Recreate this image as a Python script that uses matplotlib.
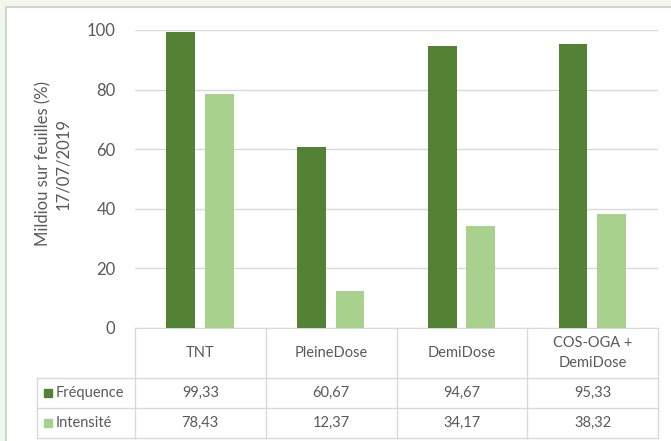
import numpy as np
import matplotlib
matplotlib.use('Agg')
import matplotlib.pyplot as plt
from matplotlib.patches import Rectangle

categories = ['TNT', 'PleineDose', 'DemiDose', 'COS-OGA +\nDemiDose']
series = ['Fréquence', 'Intensité']
frequence = [99.33, 60.67, 94.67, 95.33]
intensite = [78.43, 12.37, 34.17, 38.32]
colors = ['#548235', '#A9D18E']
txt = '#595959'
grid = '#d9d9d9'

plt.rcParams['font.family'] = ['Lato', 'DejaVu Sans']

W, H = 671, 441
fig = plt.figure(figsize=(W / 100, H / 100), dpi=100)
fig.patch.set_facecolor('#f2f7ec')

def fx(px):
    return px / W

def fy(py):
    return 1 - py / H

# white chart area with grey border
fig.patches.append(Rectangle((fx(6), fy(470)), fx(700), (470 - 7) / H,
                             transform=fig.transFigure, facecolor='white',
                             edgecolor='#d4d4d4', linewidth=1.5, zorder=-5))

left, right, top, bottom = 135, 658, 30, 328
ax = fig.add_axes([fx(left), fy(bottom), fx(right - left), (bottom - top) / H])
ax.set_facecolor('none')
ax.set_zorder(2)

x = np.arange(len(categories))
w = 0.22
ax.bar(x - 0.15, frequence, w, color=colors[0], zorder=3)
ax.bar(x + 0.145, intensite, w, color=colors[1], zorder=3)

ax.set_xlim(-0.5, len(categories) - 0.5)
ax.set_ylim(0, 100)
ax.set_yticks(np.arange(0, 101, 20))
ax.tick_params(axis='y', length=0, pad=14, labelsize=12, labelcolor=txt)
ax.tick_params(axis='x', length=0, labelbottom=False)
ax.yaxis.grid(True, color=grid, linewidth=1)
for s in ['top', 'right', 'left']:
    ax.spines[s].set_visible(False)
ax.spines['bottom'].set_color(grid)

fig.text(fx(53), fy(164), 'Mildiou sur feuilles (%)\n17/07/2019', rotation=90,
         ha='center', va='center', fontsize=12, color=txt, linespacing=1.25)

# data table
rows = [378, 408, 438]
edges = np.linspace(left, right, len(categories) + 1)
for xe in edges:
    fig.add_artist(plt.Line2D([fx(xe)] * 2, [fy(bottom), fy(438)], color=grid, lw=1))
fig.add_artist(plt.Line2D([fx(37)] * 2, [fy(378), fy(438)], color=grid, lw=1))
for r in rows:
    fig.add_artist(plt.Line2D([fx(37), fx(right)], [fy(r)] * 2, color=grid, lw=1))

centers = (edges[:-1] + edges[1:]) / 2
for c, cat in zip(centers, categories):
    fig.text(fx(c), fy((bottom + 378) / 2), cat, ha='center', va='center',
             fontsize=10.5, color=txt, linespacing=1.5)

for i, (name, vals) in enumerate(zip(series, [frequence, intensite])):
    yc = (rows[i] + rows[i + 1]) / 2
    fig.patches.append(Rectangle((fx(44), fy(yc + 4)), fx(8), 8 / H,
                                 transform=fig.transFigure, color=colors[i]))
    fig.text(fx(56), fy(yc), name, ha='left', va='center', fontsize=10.5, color=txt)
    for c, v in zip(centers, vals):
        fig.text(fx(c), fy(yc), f'{v:.2f}'.replace('.', ','), ha='center',
                 va='center', fontsize=10.5, color=txt)

plt.savefig('out.png', dpi=100, facecolor=fig.get_facecolor())
